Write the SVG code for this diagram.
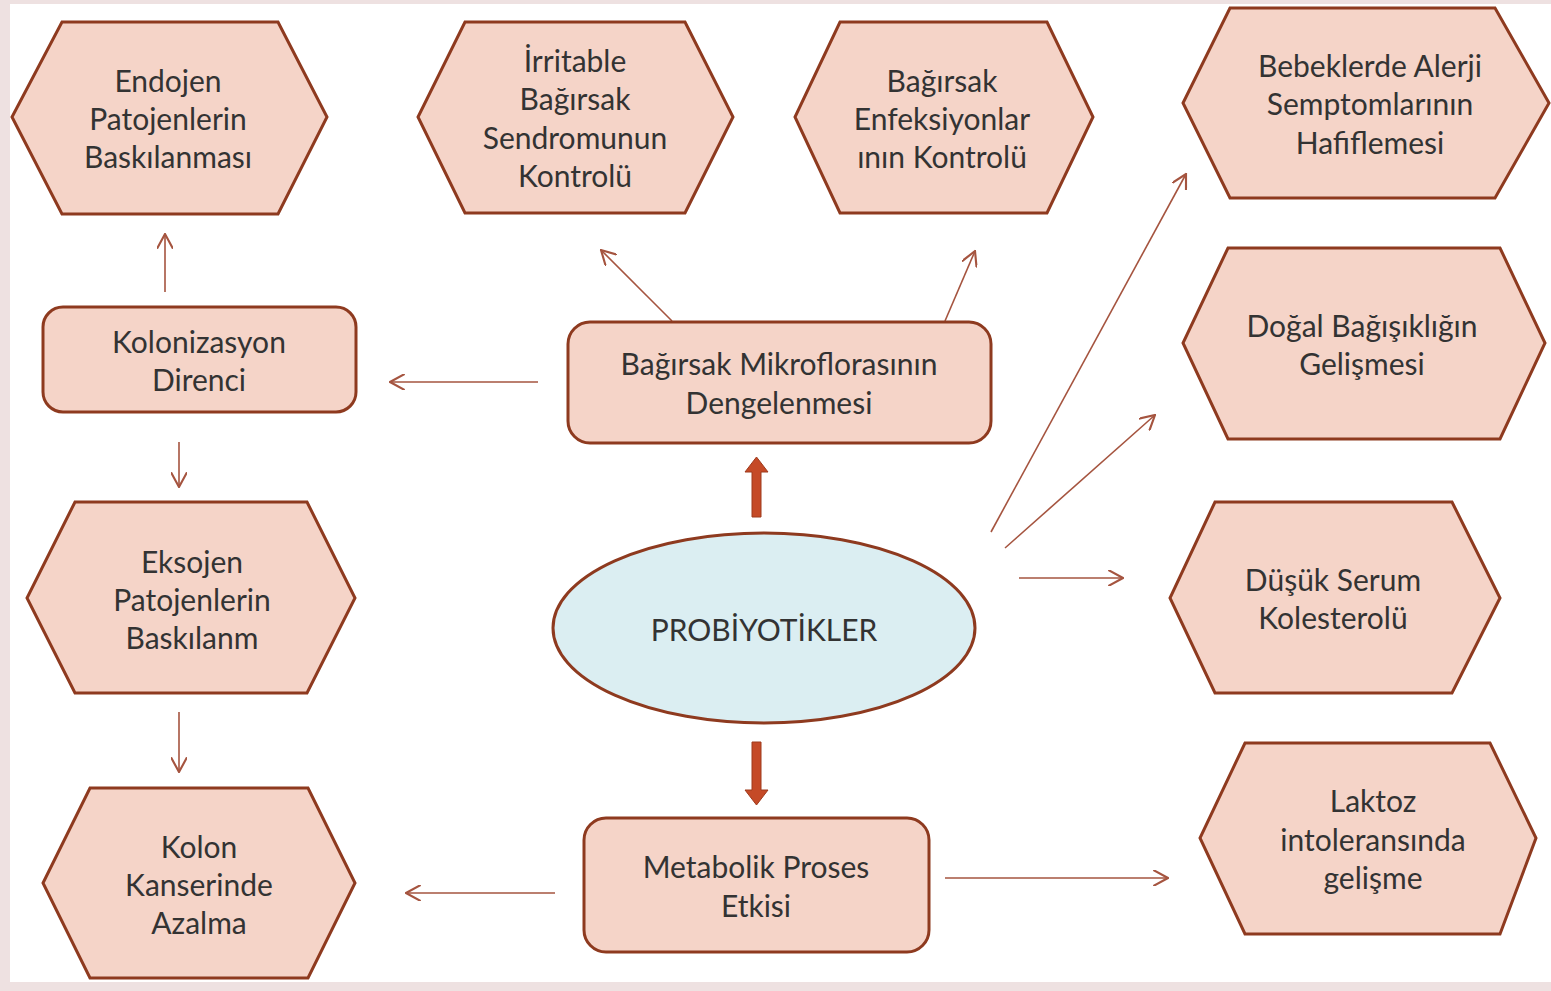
<svg xmlns="http://www.w3.org/2000/svg" width="1551" height="991" viewBox="0 0 1551 991">
<defs>
<style>
.hex{fill:#f5d4c8;stroke:#8e3a1f;stroke-width:3;stroke-linejoin:miter}
.box{fill:#f5d4c8;stroke:#8e3a1f;stroke-width:3}
.ell{fill:#dbeef2;stroke:#8e3a1f;stroke-width:3}
text{font-family:Lato,"Open Sans","Liberation Sans",sans-serif;font-size:30px;fill:#333;text-anchor:middle;dominant-baseline:central}
.con{stroke:#a5543f;stroke-width:1.6;fill:none;marker-end:url(#ah)}
.big{fill:#c54a27;stroke:#9e3a1c;stroke-width:1}
</style>
<marker id="ah" viewBox="0 0 12 12" refX="11" refY="6" markerWidth="16" markerHeight="16" markerUnits="userSpaceOnUse" orient="auto">
<path d="M0,0 L11,6 L0,12" fill="none" stroke="#a5543f" stroke-width="1.6"/>
</marker>
</defs>
<rect x="0" y="0" width="1551" height="991" fill="#eee1e1"/>
<rect x="10" y="4" width="1541" height="978" fill="#ffffff"/>

<g id="connectors">
<line class="con" x1="165" y1="292" x2="165" y2="234"/>
<line class="con" x1="179" y1="442" x2="179" y2="487"/>
<line class="con" x1="179" y1="712" x2="179" y2="772"/>
<line class="con" x1="538" y1="382" x2="390" y2="382"/>
<line class="con" x1="672" y1="321" x2="601" y2="250"/>
<line class="con" x1="945" y1="321" x2="975" y2="251"/>
<line class="con" x1="991" y1="532" x2="1186" y2="174"/>
<line class="con" x1="1005" y1="548" x2="1155" y2="415"/>
<line class="con" x1="1019" y1="578" x2="1123" y2="578"/>
<line class="con" x1="555" y1="893" x2="406" y2="893"/>
<line class="con" x1="945" y1="878" x2="1168" y2="878"/>
<path class="big" d="M752,517 L752,472 L745,472 L756.5,457 L768,472 L761,472 L761,517 Z"/>
<path class="big" d="M752,742 L752,790 L745,790 L756.5,805 L768,790 L761,790 L761,742 Z"/>
</g>

<g id="endojen">
<polygon class="hex" points="62,22 278,22 327,117 278,214 62,214 12,117"/>
<text x="168" y="80">Endojen</text><text x="168" y="118">Patojenlerin</text><text x="168" y="156">Baskılanması</text>
</g>
<g id="irritable">
<polygon class="hex" points="465,22 685,22 733,117 685,213 465,213 418,117"/>
<text x="575" y="60">İrritable</text><text x="575" y="98">Bağırsak</text><text x="575" y="137">Sendromunun</text><text x="575" y="175">Kontrolü</text>
</g>
<g id="enfeksiyon">
<polygon class="hex" points="840,22 1047,22 1093,117 1047,213 840,213 795,117"/>
<text x="942" y="80">Bağırsak</text><text x="942" y="118">Enfeksiyonlar</text><text x="942" y="156">ının Kontrolü</text>
</g>
<g id="bebeklerde">
<polygon class="hex" points="1230,8 1495,8 1549,103 1495,198 1230,198 1183,103"/>
<text x="1370" y="65">Bebeklerde Alerji</text><text x="1370" y="103">Semptomlarının</text><text x="1370" y="142">Hafiflemesi</text>
</g>
<g id="dogal">
<polygon class="hex" points="1228,248 1500,248 1545,343 1500,439 1228,439 1183,343"/>
<text x="1362" y="325">Doğal Bağışıklığın</text><text x="1362" y="363">Gelişmesi</text>
</g>
<g id="dusuk">
<polygon class="hex" points="1215,502 1452,502 1500,598 1452,693 1215,693 1170,598"/>
<text x="1333" y="579">Düşük Serum</text><text x="1333" y="617">Kolesterolü</text>
</g>
<g id="laktoz">
<polygon class="hex" points="1245,743 1490,743 1536,838 1500,934 1245,934 1200,838"/>
<text x="1373" y="800">Laktoz</text><text x="1373" y="839">intoleransında</text><text x="1373" y="877">gelişme</text>
</g>
<g id="eksojen">
<polygon class="hex" points="75,502 307,502 355,598 307,693 75,693 27,598"/>
<text x="192" y="561">Eksojen</text><text x="192" y="599">Patojenlerin</text><text x="192" y="637">Baskılanm</text>
</g>
<g id="kolon">
<polygon class="hex" points="90,788 308,788 355,883 308,978 90,978 43,883"/>
<text x="199" y="846">Kolon</text><text x="199" y="884">Kanserinde</text><text x="199" y="922">Azalma</text>
</g>
<g id="kolonizasyon">
<rect class="box" x="43" y="307" width="313" height="105" rx="20"/>
<text x="199" y="341">Kolonizasyon</text><text x="199" y="379">Direnci</text>
</g>
<g id="mikroflora">
<rect class="box" x="568" y="322" width="423" height="121" rx="22"/>
<text x="779" y="363">Bağırsak Mikroflorasının</text><text x="779" y="402">Dengelenmesi</text>
</g>
<g id="metabolik">
<rect class="box" x="584" y="818" width="345" height="134" rx="22"/>
<text x="756" y="866">Metabolik Proses</text><text x="756" y="905">Etkisi</text>
</g>
<g id="probiyotikler">
<ellipse class="ell" cx="764" cy="628" rx="211" ry="95"/>
<text x="764" y="629">PROBİYOTİKLER</text>
</g>
</svg>
